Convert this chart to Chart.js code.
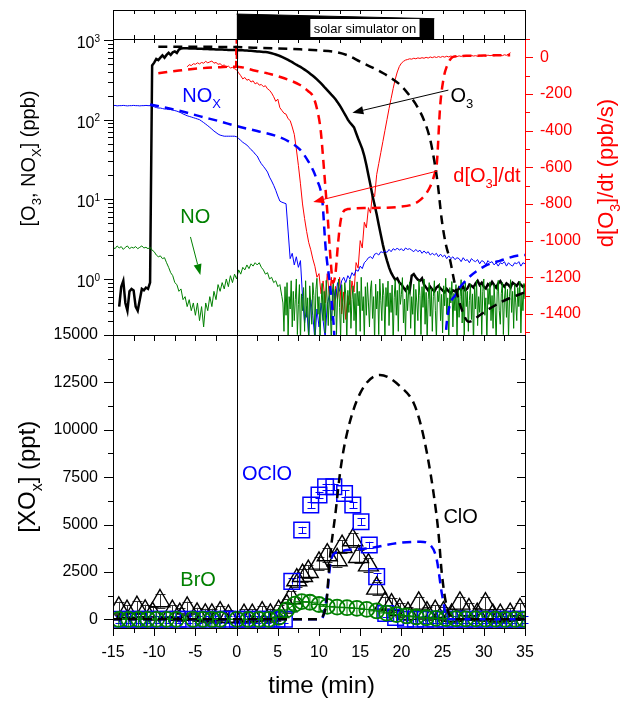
<!DOCTYPE html>
<html lang="en">
  <head>
    <meta charset="UTF-8" />
    <title>O3, NOx and XOx during irradiation</title>
    <style>
      body { margin: 0; background: #fff; }
      #wrap { position: relative; width: 624px; height: 702px; }
      #wrap canvas { position: absolute; left: 0; top: 0; }
    </style>
  </head>
  <body>
    <div id="wrap">
      <canvas id="lowerChart" width="624" height="702"></canvas>
      <canvas id="upperChart" width="624" height="702"></canvas>
      <canvas id="lampChart" width="624" height="702"></canvas>
    </div>
    <script src="https://cdn.jsdelivr.net/npm/chart.js@4.4.0/dist/chart.umd.min.js"></script>
    <script>
      const FONT = "'Liberation Sans', Arial, sans-serif";
      const RED = "#ff0000";
      const BLUE = "#0000ff";
      const GREEN = "#008000";
      const BLACK = "#000000";

      // measured traces: start time and sample step (min)
      const traceStart = -15;
      const traceStep = 0.25;
      const rateStart = -6;
      const noNoiseStart = 5.625;
      const noNoiseStep = 0.125;

      // O3 (ppb), from -15 min
      const o3Meas = [
        null, null, null, 0.45,
        0.8, 0.95, 0.5, 0.4,
        0.7, 0.75, 0.72, 0.45,
        0.4, 0.55, 0.75, 0.72,
        0.78, 0.75, 0.9, 480,
        520, 580, 560, 600,
        640, 600, 650, 690,
        650, 700, 720, 690,
        760, 780, 790, 790,
        790, 785, 785, 780,
        780, 778, 775, 775,
        772, 770, 770, 768,
        765, 765, 762, 760,
        760, 758, 755, 755,
        752, 750, 750, 748,
        748, 746, 744, 742,
        740, 738, 735, 732,
        728, 724, 720, 716,
        712, 708, 705, 700,
        692, 682, 670, 658,
        645, 630, 615, 598,
        580, 562, 545, 527,
        508, 490, 475, 460,
        443, 425, 408, 390,
        372, 355, 338, 320,
        302, 285, 268, 250,
        235, 220, 206, 194,
        180, 166, 152, 138,
        124, 112, 100, 92,
        86, 80, 68, 58,
        50, 43, 35, 27,
        20, 15, 11, 8.5,
        6.5, 4.8, 3.6, 2.7,
        2.1, 1.7, 1.4, 1.2,
        1.08, 0.98, 1.02, 0.9,
        0.86, 0.78, 0.72, 0.8,
        0.7, 1.1, 1.15, 1.05,
        0.98, 0.95, 1.02, 0.85,
        0.78, 0.72, 0.8, 0.74,
        0.7, 0.78, 0.82, 0.76,
        0.72, 0.68, 0.75, 0.7,
        0.66, 0.72, 0.7, 0.68,
        0.78, 0.74, 0.8, 0.72,
        0.76, 0.85, 0.82, 0.78,
        0.88, 0.95, 0.84, 0.9,
        0.8, 0.76, 0.86, 0.82,
        0.92, 0.84, 0.78, 0.88,
        0.94, 0.85, 0.8, 0.88,
        0.84, 0.78, 0.9, 0.86,
        0.82, 0.9, 0.85, 0.8,
        0.84,
      ];

      // NOx (ppb), from -15 min
      const noxMeas = [
        150, 151, 149, 150,
        150, 151, 150, 149,
        150, 150, 151, 150,
        150, 149, 150, 150,
        151, 150, 150, 148,
        145, 142, 140, 140,
        138, 136, 136, 134,
        134, 132, 130, 128,
        125, 122, 118, 115,
        112, 110, 108, 106,
        104, 102, 100, 96,
        92, 88, 84, 80,
        76, 72, 69, 66,
        64, 63, 62, 62,
        62, 62, 62, 62,
        61, 58, 55, 52,
        50, 48, 45, 42,
        40, 37, 35, 31,
        28, 26, 24, 22,
        19, 17, 15, 13,
        11, 9.5, 9.2, 9.0,
        8.8, 4, 1.8, 2.1,
        1.5, 1.9, 1.4, 1.7,
        0.6, 0.28, 0.45, 0.19,
        0.55, 0.35, 0.17, 0.42,
        0.25, 0.5, 0.3, 0.18,
        0.48, 0.62, 0.3, 0.75,
        0.55, 0.9, 0.7, 0.95,
        1.05, 0.9, 1.1, 1.0,
        1.2, 1.1, 1.3, 1.25,
        1.45, 1.35, 1.6, 1.7,
        1.85, 1.9, 1.8, 2.05,
        2.1, 2.0, 2.2, 2.15,
        2.25, 2.15, 2.35, 2.2,
        2.4, 2.3, 2.45, 2.3,
        2.4, 2.25, 2.45, 2.35,
        2.4, 2.3, 2.2, 2.35,
        2.2, 2.3, 2.1, 2.25,
        2.1, 2.2, 2.0, 2.1,
        2.0, 2.1, 1.9, 2.05,
        1.9, 2.0, 1.8, 1.95,
        1.8, 1.9, 1.75, 1.85,
        1.8, 1.65, 1.85, 1.7,
        1.75, 1.6, 1.8, 1.7,
        1.65, 1.75, 1.55, 1.7,
        1.65, 1.5, 1.7, 1.6,
        1.65, 1.5, 1.6, 1.45,
        1.6, 1.55, 1.65, 1.45,
        1.6, 1.5, 1.45, 1.6,
        1.55, 1.65, 1.45, 1.6,
        1.55,
      ];

      // NO (ppb), from -15 min to 5.5 min
      const noMeas = [
        2.5, 2.4, 2.6, 2.45,
        2.55, 2.35, 2.5, 2.6,
        2.4, 2.5, 2.45, 2.55,
        2.4, 2.5, 2.6, 2.45,
        2.5, 2.4, 2.5, 2.3,
        2.2, 2.0, 1.9, 1.95,
        1.8, 1.85, 1.6, 1.4,
        1.2, 1.1, 0.9, 0.85,
        0.7, 0.75, 0.55, 0.6,
        0.45, 0.55, 0.4, 0.5,
        0.35, 0.5, 0.3, 0.45,
        0.25, 0.5, 0.4, 0.6,
        0.45, 0.7, 0.55, 0.85,
        0.7, 0.9, 0.75, 1.0,
        0.8, 1.1, 0.9, 1.15,
        1.0, 1.3, 1.15, 1.4,
        1.3, 1.5, 1.35, 1.55,
        1.45, 1.6, 1.5, 1.6,
        1.4, 1.3, 1.15, 1.2,
        1.0, 1.05, 0.9, 0.95,
        0.8, 0.85, 0.6,
      ];
      // NO (ppb), noisy part from 5.625 min, every 0.125 min
      const noNoise = [
        0.5, 0.22, 0.8,
        0.35, 0.9, 0.18, 0.6, 0.42, 0.95, 0.25, 0.7,
        0.3, 0.55, 1.0, 0.2, 0.48, 0.85, 0.16, 0.65,
        0.4, 0.78, 0.22, 0.95, 0.33, 0.58, 0.15, 0.82,
        0.5, 0.27, 0.9, 0.62, 0.19, 0.74, 1.02, 0.36,
        0.6, 0.17, 0.45, 0.88, 0.3, 0.7, 0.21, 0.96,
        0.52, 0.26, 0.8, 0.4, 0.15, 0.68, 0.92, 0.34,
        0.75, 0.2, 0.58, 1.0, 0.44, 0.18, 0.85, 0.5,
        0.28, 0.9, 0.63, 0.16, 0.72, 0.38, 0.98, 0.24,
        0.55, 0.82, 0.3, 0.66, 0.19, 0.92, 0.46, 0.7,
        0.22, 1.05, 0.4, 0.6, 0.17, 0.8, 0.35, 0.9,
        0.5, 0.25, 0.75, 0.95, 0.32, 0.6, 0.16, 0.86,
        0.42, 0.7, 0.2, 1.0, 0.54, 0.3, 0.88, 0.62,
        0.18, 0.78, 0.45, 0.94, 0.26, 0.67, 0.38, 0.84,
        0.15, 0.58, 0.98, 0.35, 0.72, 0.22, 0.9, 0.48,
        0.64, 1.04, 0.28, 0.56, 0.19, 0.82, 0.4, 0.7,
        0.92, 0.24, 0.6, 0.36, 0.86, 0.16, 0.74, 0.5,
        0.3, 0.96, 0.62, 0.2, 0.8, 0.44, 1.0, 0.27,
        0.68, 0.18, 0.55, 0.9, 0.34, 0.76, 0.22, 0.6,
        0.95, 0.4, 0.17, 0.7, 0.52, 0.88, 0.3, 0.64,
        0.21, 0.82, 0.46, 1.02, 0.36, 0.58, 0.16, 0.78,
        0.5, 0.93, 0.25, 0.66, 0.4, 0.85, 0.19, 0.72,
        0.33, 0.6, 0.98, 0.28, 0.74, 0.18, 0.9, 0.45,
        0.7, 0.22, 0.54, 0.87, 0.31, 0.65, 0.15, 0.8,
        0.42, 0.96, 0.26, 0.6, 0.38, 0.84, 0.2, 0.7,
        1.0, 0.35, 0.58, 0.17, 0.76, 0.48, 0.92, 0.3,
        0.62, 0.24, 0.85, 0.44, 0.16, 0.7, 0.96, 0.4,
        0.27, 0.66, 0.9, 0.2, 0.55, 0.82, 0.33, 0.74,
        0.18, 0.6, 0.98, 0.38, 0.7, 0.24, 0.86, 0.5,
        0.3, 0.78, 0.45, 0.94, 0.21, 0.64, 0.4, 0.88,
        0.56,
      ];

      // d[O3]/dt (ppb/s), from -6 min
      const rateMeas = [
        -52, -40, -45, -35,
        -38, -30, -36, -28,
        -32, -22, -30, -25,
        -20, -32, -28, -38,
        -35, -45, -42, -52,
        -48, -58, -55, -62,
        -68, -85, -100, -118,
        -110, -125, -120, -135,
        -128, -145, -138, -152,
        -148, -160, -155, -172,
        -180, -195, -215, -240,
        -228, -275, -290, -305,
        -310, -335, -345, -380,
        -420, -500, -590, -690,
        -800, -880, -950, -1010,
        -1050, -1100, -1140, -1200,
        -1180, -1290, -1220, -1340,
        -1180, -1300, -1200, -1380,
        -1250, -1320, -1200, -1400,
        -1280, -1430, -1300, -1350,
        -1220, -1280, -1120, -1150,
        -1000, -1040, -900, -930,
        -820, -850, -740, -760,
        -640, -580, -520, -460,
        -400, -340, -280, -225,
        -170, -120, -80, -50,
        -32, -22, -15, -12,
        -8, -10, -5, -8,
        -3, -6, -2, -5,
        0, -4, 2, -2,
        3, -1, 4, 0,
        5, 1, 6, 2,
        7, 3, 6, 4,
        8, 5, 9, 6,
        8, 5, 10, 7,
        9, 6, 11, 8,
        10, 7, 12, 9,
        11, 8, 13, 10,
        12, 9, 14, 11,
        18, 25,
      ];

      // model runs
      const o3ModelT = [-9.5, -5, 0, 3, 7.7, 10, 11.8, 13.5, 15, 16.5, 17.8, 19, 20, 21, 21.9, 22.8, 23.5, 24, 24.4, 24.9, 25.4, 25.9, 26.5, 27.2, 28.2, 29.5, 30.8, 32.2, 33.6, 35];
      const o3ModelV = [825, 822, 815, 795, 764, 740, 713, 640, 535, 450, 383, 320, 265, 200, 147, 95, 56, 30, 16, 5.5, 2.7, 1.74, 0.85, 0.45, 0.29, 0.35, 0.43, 0.52, 0.6, 0.68];
      const noxModelT = [-10.5, -7, -4.4, -2, 0, 2.5, 4.9, 6.5, 7.7, 8.7, 9.3, 9.8, 10.2, 10.4, 10.8, 11.4, 11.8, 12.2, 25, 25.5, 26.7, 28, 30, 32, 34.8, 35];
      const noxModelV = [155, 130, 110, 95, 83, 72, 62, 52, 42, 30, 23, 17, 13, 9.8, 2.5, 0.73, 0.25, 0.05, 0.05, 0.28, 0.66, 1.0, 1.43, 1.7, 2.0, 2.0];
      const rateModelT = [-9.5, -7, -4.4, -2, -0.3, -0.05, 0, 0.05, 0.3, 2, 3.7, 5.5, 7.7, 8.7, 9.3, 9.8, 10.2, 10.5, 10.8, 11.1, 11.4, 11.7, 12.0, 12.3, 12.6, 12.9, 13.5, 15.8, 19.9, 22.3, 23.5, 24.0, 24.3, 24.7, 25.1, 25.5, 26.3, 28, 30, 33.2];
      const rateModelV = [-87, -72, -60, -54, -51, -51, 150, -52, -53, -70, -87, -110, -151, -185, -215, -290, -396, -550, -723, -900, -1100, -1230, -1180, -1020, -900, -845, -828, -822, -815, -778, -705, -640, -578, -269, -120, -51, 3, 8, 10, 12];
      const cloModelT = [-15, 9.5, 10.2, 10.6, 10.9, 11.3, 12.0, 12.6, 13.4, 15.0, 17.4, 19.9, 21.5, 22.3, 23.1, 23.9, 24.5, 24.9, 25.5, 26.4, 35];
      const cloModelV = [0, 0, 50, 300, 860, 3130, 5600, 7880, 9820, 11930, 12890, 12270, 11400, 10350, 8770, 6660, 4550, 2440, 670, 0, 0];
      const oclModelT = [-15, 10.2, 10.6, 11.0, 11.4, 11.8, 12.4, 13.4, 16.2, 19.5, 22.3, 23.5, 24.3, 24.9, 25.5, 26.0, 35];
      const oclModelV = [0, 0, 300, 1380, 3000, 3450, 3550, 3650, 3760, 4020, 4090, 3920, 3130, 1380, 140, 0, 0];

      // measured XOx (ppt)
      const cloT = [-14.3, -13.3, -12.1, -11.1, -10.2, -9.3, -7.8, -6.9, -6.0, -4.8, -3.8, -3.0, -2.0, -1.0, 0.9, 1.9, 3.1, 4.1, 5.1, 6.1, 6.6, 7.3, 8.0, 8.7, 10.0, 11.0, 12.2, 12.8, 14.1, 14.8, 16.0, 17.0, 18.0, 18.8, 19.8, 20.8, 22.1, 23.1, 24.1, 25.1, 26.1, 27.1, 28.2, 29.2, 30.2, 31.1, 32.0, 33.2, 34.4];
      const cloV = [580, 400, 610, 420, 300, 965, 400, 250, 580, 260, 210, 210, 330, 150, 190, 190, 330, 210, 400, 700, 1140, 2070, 2300, 2510, 2950, 3390, 3130, 3830, 4180, 3300, 2860, 1630, 840, 750, 490, 300, 840, 320, 400, 320, 200, 840, 490, 250, 800, 200, 190, 250, 490];
      const oclT = [-14.3, -13.1, -11.9, -10.7, -9.5, -8.3, -7.1, -5.9, -4.7, -3.5, -2.3, -1.1, 0.1, 1.3, 2.5, 3.7, 4.9, 5.8, 6.7, 7.9, 9.0, 10.0, 10.8, 11.8, 13.1, 14.1, 15.1, 16.1, 17.0, 18.1, 19.3, 20.5, 21.7, 22.9, 24.1, 25.3, 26.5, 27.7, 28.9, 30.1, 31.3, 32.5, 33.7, 34.9];
      const oclV = [0, 0, 0, 0, 0, 0, 0, 0, 0, 0, 0, 0, 0, 0, 0, 0, 0, 0, 2000, 4710, 6030, 6560, 6990, 6990, 6640, 6030, 5150, 3920, 2250, 300, 100, 0, 0, 0, 0, 0, 0, 0, 0, 0, 0, 0, 0, 0];
      const broT = [-14.3, -13.1, -11.9, -10.8, -9.7, -8.5, -7.3, -5.3, -4.1, -3.0, -2.0, 0.05, 1.4, 2.7, 3.9, 5.1, 6.1, 7.1, 7.9, 8.9, 10.0, 11.0, 12.2, 13.4, 14.6, 15.8, 17.0, 18.2, 19.4, 20.6, 21.8, 23.0, 24.2, 25.4, 26.6, 27.8, 29.0, 30.2, 31.4, 32.6, 33.8, 34.9];
      const broV = [0, 0, 0, 0, 0, 0, 0, 0, 0, 0, 0, 0, 0, 0, 0, 100, 500, 800, 930, 900, 780, 680, 640, 610, 580, 520, 440, 330, 250, 180, 120, 80, 50, 40, 30, 20, 20, 10, 10, 0, 0, 0];
      const cloErr = 350;
      const oclErr = 170;

      // solar simulator lamp (relative output)
      const lampT = [0, 24];
      const lampLevel = [0.86, 0.7];

      // ticks
      const timeTicks = [-15, -10, -5, 0, 5, 10, 15, 20, 25, 30, 35];
      const timeMinor = [-15, -12.5, -10, -7.5, -5, -2.5, 0, 2.5, 5, 7.5, 10, 12.5, 15, 17.5, 20, 22.5, 25, 27.5, 30, 32.5, 35];
      const rateTicks = [0, -200, -400, -600, -800, -1000, -1200, -1400];
      const xoTicks = [0, 2500, 5000, 7500, 10000, 12500, 15000];

      function pairs(ts, vs) {
        return ts.map((t, i) => ({ x: t, y: vs[i] }));
      }
      function sampled(start, vs, step = traceStep) {
        return vs.map((v, i) => ({ x: start + i * step, y: v }));
      }

      // text with sub (1) / superscript (2) pieces
      function drawRich(ctx, parts, x, y, size, color, align) {
        const small = Math.round(size * 0.65);
        const widths = parts.map(([s, k]) => {
          ctx.font = (k ? small : size) + "px " + FONT;
          return ctx.measureText(s).width;
        });
        const total = widths.reduce((a, b) => a + b, 0);
        let cx = align === "center" ? x - total / 2 : align === "right" ? x - total : x;
        ctx.fillStyle = color;
        ctx.textAlign = "left";
        ctx.textBaseline = "alphabetic";
        parts.forEach(([s, k], i) => {
          ctx.font = (k ? small : size) + "px " + FONT;
          const dy = k === 1 ? size * 0.3 : k === 2 ? -size * 0.4 : 0;
          ctx.fillText(s, cx, y + dy);
          cx += widths[i];
        });
      }

      function arrow(ctx, x1, y1, x2, y2, color) {
        const ang = Math.atan2(y2 - y1, x2 - x1);
        const hl = 11, hw = 4;
        ctx.strokeStyle = color;
        ctx.fillStyle = color;
        ctx.lineWidth = 1;
        ctx.beginPath();
        ctx.moveTo(x1, y1);
        ctx.lineTo(x2 - Math.cos(ang) * hl, y2 - Math.sin(ang) * hl);
        ctx.stroke();
        ctx.beginPath();
        ctx.moveTo(x2, y2);
        ctx.lineTo(x2 - Math.cos(ang) * hl - Math.sin(ang) * hw, y2 - Math.sin(ang) * hl + Math.cos(ang) * hw);
        ctx.lineTo(x2 - Math.cos(ang) * hl + Math.sin(ang) * hw, y2 - Math.sin(ang) * hl - Math.cos(ang) * hw);
        ctx.closePath();
        ctx.fill();
      }

      function rotatedTitle(ctx, parts, cx, cy, size, color) {
        ctx.save();
        ctx.translate(cx, cy);
        ctx.rotate(-Math.PI / 2);
        drawRich(ctx, parts, 0, 0, size, color, "center");
        ctx.restore();
      }

      const px = (scale, v) => Math.round(scale.getPixelForValue(v)) + 0.5;

      const lampDecor = {
        id: "lampDecor",
        afterDraw(chart) {
          const { ctx, chartArea: a } = chart;
          const x = chart.scales.x;
          ctx.save();
          ctx.strokeStyle = BLACK;
          ctx.lineWidth = 1;
          ctx.strokeRect(a.left + 0.5, a.top + 0.5, a.right - a.left, a.bottom - a.top);
          ctx.beginPath();
          timeMinor.forEach((t) => {
            const p = px(x, t);
            ctx.moveTo(p, a.top);
            ctx.lineTo(p, a.top + 4);
            ctx.moveTo(p, a.bottom);
            ctx.lineTo(p, a.bottom - 4);
          });
          ctx.stroke();
          const b1 = x.getPixelForValue(8.95);
          const b2 = x.getPixelForValue(22.2);
          ctx.fillStyle = "#fff";
          ctx.fillRect(b1, 19, b2 - b1, 18);
          ctx.fillStyle = BLACK;
          ctx.font = "13px " + FONT;
          ctx.textAlign = "center";
          ctx.textBaseline = "alphabetic";
          ctx.fillText("solar simulator on", (b1 + b2) / 2, 33);
          ctx.restore();
        },
      };

      const upperDecor = {
        id: "upperDecor",
        afterDraw(chart) {
          const { ctx, chartArea: a } = chart;
          const x = chart.scales.x;
          const yl = chart.scales.yLog;
          const yr = chart.scales.yRate;
          ctx.save();
          ctx.lineWidth = 1;

          // t = 0 marker and left axis
          ctx.strokeStyle = BLACK;
          ctx.beginPath();
          const x0 = px(x, 0);
          ctx.moveTo(x0, a.top);
          ctx.lineTo(x0, a.bottom);
          ctx.moveTo(a.left + 0.5, a.top);
          ctx.lineTo(a.left + 0.5, a.bottom);
          for (let e = -1; e <= 3; e++) {
            for (let m = 1; m <= 9; m++) {
              const v = m * Math.pow(10, e);
              if (v < yl.min || v > yl.max) continue;
              const py = px(yl, v);
              ctx.moveTo(a.left, py);
              ctx.lineTo(a.left - (m === 1 ? 9 : 5), py);
            }
          }
          timeMinor.forEach((t) => {
            const p = px(x, t);
            ctx.moveTo(p, a.top);
            ctx.lineTo(p, a.top + 4);
          });
          ctx.stroke();
          for (let e = 0; e <= 3; e++) {
            drawRich(ctx, [["10", 0], [String(e), 2]], a.left - 13, yl.getPixelForValue(Math.pow(10, e)) + 8, 16, BLACK, "right");
          }

          // right rate axis
          ctx.strokeStyle = RED;
          ctx.beginPath();
          ctx.moveTo(a.right + 0.5, a.top);
          ctx.lineTo(a.right + 0.5, a.bottom);
          for (let v = 100; v >= yr.min; v -= 100) {
            const py = px(yr, v);
            ctx.moveTo(a.right, py);
            ctx.lineTo(a.right + (v % 200 === 0 ? 8 : 5), py);
          }
          ctx.stroke();

          // annotations
          const at = (t, v, s) => [x.getPixelForValue(t), s.getPixelForValue(v)];
          let p = at(-6.6, 168, yl);
          drawRich(ctx, [["NO", 0], ["X", 1]], p[0], p[1], 20, BLUE, "left");
          p = at(25.95, 168, yl);
          drawRich(ctx, [["O", 0], ["3", 1]], p[0], p[1], 20, BLACK, "left");
          p = at(26.3, -680, yr);
          drawRich(ctx, [["d[O", 0], ["3", 1], ["]/dt", 0]], p[0], p[1], 20, RED, "left");
          p = at(-6.83, 5.05, yl);
          drawRich(ctx, [["NO", 0]], p[0], p[1], 20, GREEN, "left");

          let q = at(25.7, 235, yl), r = at(14.05, 122, yl);
          arrow(ctx, q[0], q[1], r[0], r[1], BLACK);
          q = at(24.4, -620, yr);
          r = at(9.3, -789, yr);
          arrow(ctx, q[0], q[1], r[0], r[1], RED);
          q = at(-5.6, 3.37, yl);
          r = at(-4.4, 1.12, yl);
          arrow(ctx, q[0], q[1], r[0], r[1], GREEN);

          rotatedTitle(ctx, [["[O", 0], ["3", 1], [", NO", 0], ["X", 1], ["] (ppb)", 0]], 35, 158.5, 20, BLACK);
          rotatedTitle(ctx, [["d[O", 0], ["3", 1], ["]/dt (ppb/s)", 0]], 613, 173, 22, RED);
          ctx.restore();
        },
      };

      const lowerDecor = {
        id: "lowerDecor",
        beforeDatasetsDraw(chart) {
          const { ctx } = chart;
          const x = chart.scales.x;
          const y = chart.scales.y;
          ctx.save();
          ctx.lineWidth = 1;
          const bars = (ts, vs, err, color, cap) => {
            ctx.strokeStyle = color;
            ctx.beginPath();
            ts.forEach((t, i) => {
              const cx = px(x, t);
              const lo = y.getPixelForValue(vs[i] - err);
              const hi = y.getPixelForValue(vs[i] + err);
              ctx.moveTo(cx, lo);
              ctx.lineTo(cx, hi);
              ctx.moveTo(cx - cap, Math.round(lo) + 0.5);
              ctx.lineTo(cx + cap, Math.round(lo) + 0.5);
              ctx.moveTo(cx - cap, Math.round(hi) + 0.5);
              ctx.lineTo(cx + cap, Math.round(hi) + 0.5);
            });
            ctx.stroke();
          };
          bars(cloT, cloV, cloErr, "#333", 5);
          bars(oclT, oclV, oclErr, BLUE, 4);
          ctx.restore();
        },
        afterDraw(chart) {
          const { ctx, chartArea: a } = chart;
          const x = chart.scales.x;
          const y = chart.scales.y;
          ctx.save();
          ctx.lineWidth = 1;
          ctx.strokeStyle = BLACK;
          ctx.strokeRect(a.left + 0.5, a.top + 0.5, a.right - a.left, a.bottom - a.top);
          ctx.beginPath();
          const x0 = px(x, 0);
          ctx.moveTo(x0, a.top);
          ctx.lineTo(x0, a.bottom);
          timeMinor.forEach((t) => {
            const p = px(x, t);
            const major = t % 5 === 0;
            ctx.moveTo(p, a.bottom);
            ctx.lineTo(p, a.bottom + (major ? 8 : 5));
            ctx.moveTo(p, a.top);
            ctx.lineTo(p, a.top + 6);
          });
          for (let v = 0; v <= 15000; v += 1250) {
            const py = px(y, v);
            const major = v % 2500 === 0;
            ctx.moveTo(a.left, py);
            ctx.lineTo(a.left - (major ? 9 : 5), py);
            ctx.moveTo(a.right, py);
            ctx.lineTo(a.right - (major ? 8 : 4), py);
          }
          ctx.stroke();

          const at = (t, v) => [x.getPixelForValue(t), y.getPixelForValue(v)];
          let p = at(0.65, 7350);
          drawRich(ctx, [["OClO", 0]], p[0], p[1], 20, BLUE, "left");
          p = at(25.1, 5080);
          drawRich(ctx, [["ClO", 0]], p[0], p[1], 20, BLACK, "left");
          p = at(-6.83, 1757);
          drawRich(ctx, [["BrO", 0]], p[0], p[1], 20, GREEN, "left");

          rotatedTitle(ctx, [["[XO", 0], ["x", 1], ["] (ppt)", 0]], 35, 476.7, 24, BLACK);
          drawRich(ctx, [["time (min)", 0]], 321.7, 692.5, 24, BLACK, "center");
          ctx.restore();
        },
      };

      const dashed = { borderWidth: 2.5, borderDash: [9, 6], cubicInterpolationMode: "monotone" };

      new Chart(document.getElementById("lampChart"), {
        type: "line",
        data: {
          datasets: [
            {
              label: "lamp",
              data: pairs(lampT, lampLevel),
              borderColor: BLACK,
              backgroundColor: BLACK,
              borderWidth: 1,
              pointRadius: 0,
              fill: "start",
            },
          ],
        },
        options: {
          responsive: false,
          animation: false,
          devicePixelRatio: 1,
          layout: { padding: { left: 113, right: 99, top: 10, bottom: 663 } },
          plugins: { legend: { display: false }, tooltip: { enabled: false } },
          scales: {
            x: { type: "linear", min: -15, max: 35, display: false },
            y: { min: 0, max: 1, display: false },
          },
        },
        plugins: [lampDecor],
      });

      const noData = sampled(traceStart, noMeas).concat(sampled(noNoiseStart, noNoise, noNoiseStep));

      new Chart(document.getElementById("upperChart"), {
        type: "line",
        data: {
          datasets: [
            { label: "O3 model", data: pairs(o3ModelT, o3ModelV), yAxisID: "yLog", borderColor: BLACK, ...dashed },
            { label: "NOx model", data: pairs(noxModelT, noxModelV), yAxisID: "yLog", borderColor: BLUE, ...dashed },
            { label: "d[O3]/dt model", data: pairs(rateModelT, rateModelV), yAxisID: "yRate", borderColor: RED, ...dashed },
            { label: "NO", data: noData, yAxisID: "yLog", borderColor: GREEN, borderWidth: 1 },
            { label: "NOx", data: sampled(traceStart, noxMeas), yAxisID: "yLog", borderColor: BLUE, borderWidth: 1 },
            { label: "O3", data: sampled(traceStart, o3Meas), yAxisID: "yLog", borderColor: BLACK, borderWidth: 2.5 },
            { label: "d[O3]/dt", data: sampled(rateStart, rateMeas), yAxisID: "yRate", borderColor: RED, borderWidth: 1 },
          ],
        },
        options: {
          responsive: false,
          animation: false,
          devicePixelRatio: 1,
          layout: { padding: { left: 113, right: 0, top: 39, bottom: 367 } },
          elements: { point: { radius: 0 }, line: { tension: 0 } },
          plugins: { legend: { display: false }, tooltip: { enabled: false } },
          scales: {
            x: { type: "linear", min: -15, max: 35, display: false },
            yLog: { type: "logarithmic", position: "left", min: 0.198, max: 1030, display: false },
            yRate: {
              type: "linear",
              position: "right",
              min: -1515,
              max: 100,
              grid: { display: false, drawTicks: false },
              border: { display: false },
              ticks: { color: RED, font: { family: FONT, size: 16 }, padding: 15, callback: (v) => String(v) },
              afterBuildTicks: (s) => { s.ticks = rateTicks.map((v) => ({ value: v })); },
              afterFit: (s) => { s.width = 99; },
            },
          },
        },
        plugins: [upperDecor],
      });

      new Chart(document.getElementById("lowerChart"), {
        type: "line",
        data: {
          datasets: [
            { label: "ClO model", data: pairs(cloModelT, cloModelV), borderColor: BLACK, pointRadius: 0, ...dashed },
            { label: "OClO model", data: pairs(oclModelT, oclModelV), borderColor: BLUE, pointRadius: 0, ...dashed },
            {
              label: "BrO",
              data: pairs(broT, broV),
              borderColor: GREEN,
              borderWidth: 1,
              pointStyle: "cross",
              pointRadius: 7.5,
              pointBorderWidth: 1,
              pointBorderColor: GREEN,
            },
            {
              label: "BrO",
              data: pairs(broT, broV),
              showLine: false,
              pointStyle: "circle",
              pointRadius: 7.5,
              pointBorderWidth: 1.8,
              pointBorderColor: GREEN,
              pointBackgroundColor: "transparent",
            },
            {
              label: "OClO",
              data: pairs(oclT, oclV),
              showLine: false,
              pointStyle: "rect",
              pointRadius: 11,
              pointBorderWidth: 1.5,
              pointBorderColor: BLUE,
              pointBackgroundColor: "transparent",
            },
            {
              label: "ClO",
              data: pairs(cloT, cloV),
              showLine: false,
              pointStyle: "triangle",
              pointRadius: 11.5,
              pointBorderWidth: 1.4,
              pointBorderColor: BLACK,
              pointBackgroundColor: "transparent",
            },
          ],
        },
        options: {
          responsive: false,
          animation: false,
          devicePixelRatio: 1,
          layout: { padding: { left: 0, right: 99, top: 335, bottom: 0 } },
          plugins: { legend: { display: false }, tooltip: { enabled: false } },
          scales: {
            x: {
              type: "linear",
              min: -15,
              max: 35,
              grid: { display: false, drawTicks: false },
              border: { display: false },
              ticks: { color: BLACK, font: { family: FONT, size: 16 }, padding: 15, maxRotation: 0, autoSkip: false },
              afterBuildTicks: (s) => { s.ticks = timeTicks.map((v) => ({ value: v })); },
              afterFit: (s) => { s.height = 74; },
            },
            y: {
              min: -460,
              max: 15000,
              grid: { display: false, drawTicks: false },
              border: { display: false },
              ticks: { color: BLACK, font: { family: FONT, size: 16 }, padding: 15, callback: (v) => String(v) },
              afterBuildTicks: (s) => { s.ticks = xoTicks.map((v) => ({ value: v })); },
              afterFit: (s) => { s.width = 113; },
            },
          },
        },
        plugins: [lowerDecor],
      });
    </script>
  </body>
</html>
